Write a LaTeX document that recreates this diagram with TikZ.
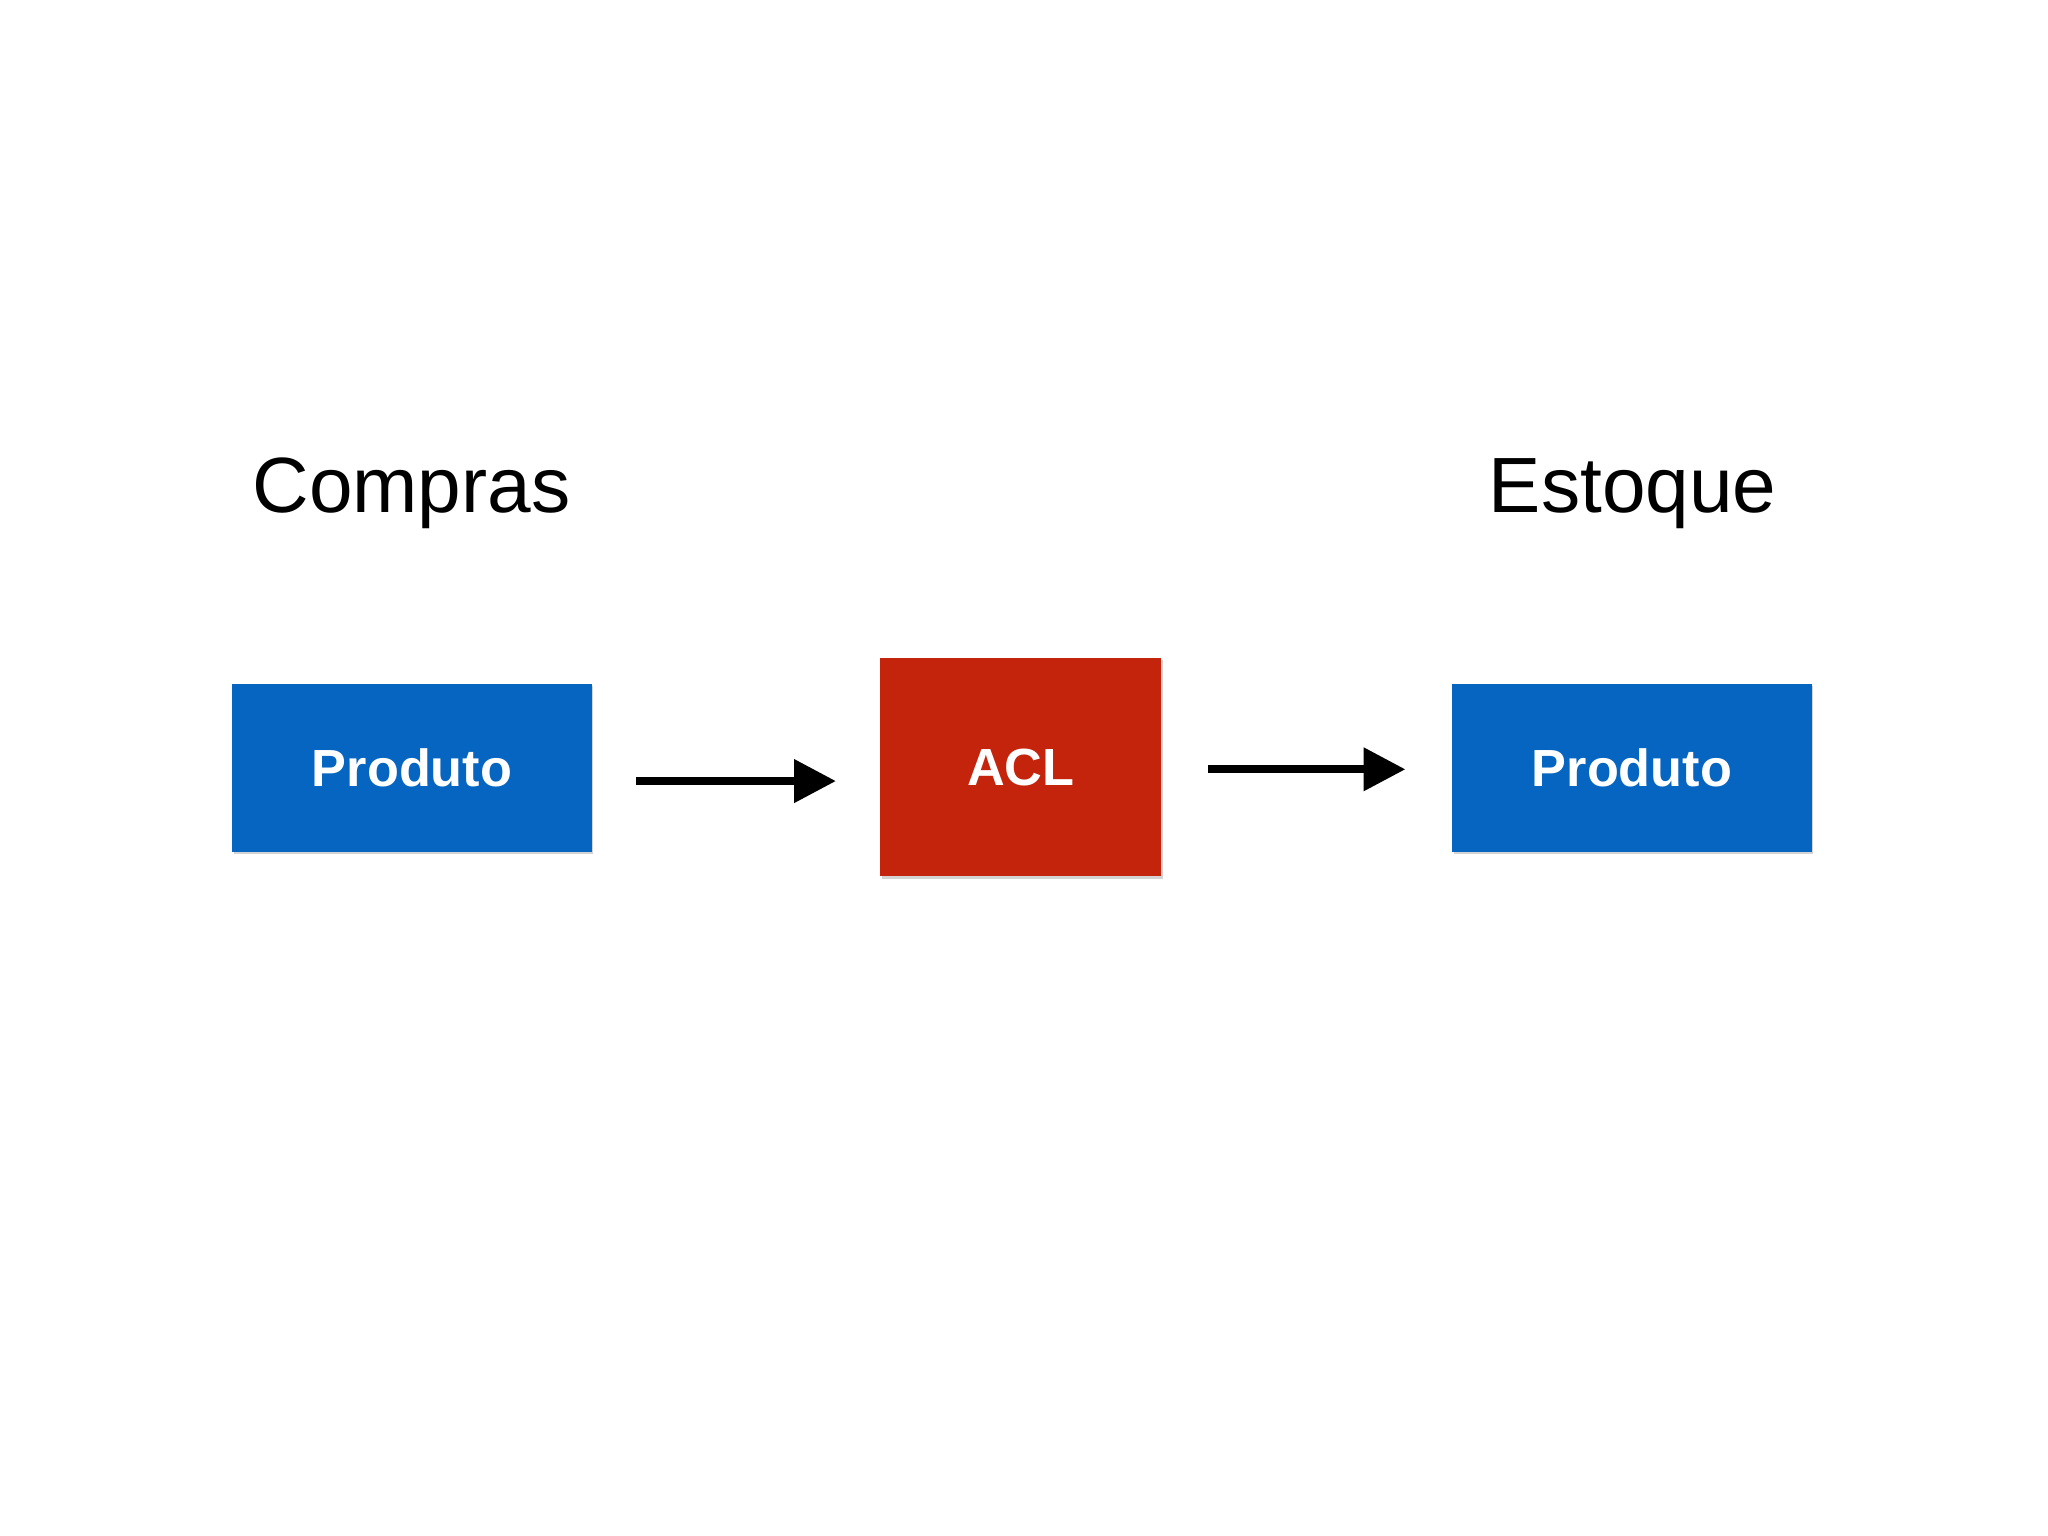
\documentclass[tikz,border=0pt]{standalone}
\usepackage{fontspec}
\setmainfont{Liberation Sans}
\usetikzlibrary{arrows.meta,shadows}
\definecolor{boxblue}{HTML}{0565C0}
\definecolor{boxred}{HTML}{C5240C}
\begin{document}
\begin{tikzpicture}
[x=0.5pt, y=-0.5pt,
 every node/.style={inner sep=0pt},
 entity/.style={rectangle, draw=none, text=white, font=\fontsize{20}{24}\selectfont\bfseries, drop shadow={shadow xshift=0.6pt, shadow yshift=-0.8pt, opacity=0.35}},
 heading/.style={font=\fontsize{30}{36}\selectfont},
 flow/.style={line width=3pt, -{Triangle[length=16pt, width=16pt]}}]
\useasboundingbox (0,0) rectangle (1568,1176);
\node (titlebuy) [heading] at (315, 378) {Compras};
\node (titlestock) [heading] at (1250, 378) {Estoque};
\node (buy) [entity, fill=boxblue, minimum width=137.5pt, minimum height=64pt] at (315.5, 588) {Produto};
\node (acl) [entity, fill=boxred, minimum width=107.5pt, minimum height=83.5pt] at (781.5, 587.5) {ACL};
\node (stock) [entity, fill=boxblue, minimum width=137.5pt, minimum height=64pt] at (1249.5, 588) {Produto};
\coordinate (a1s) at (487, 598);
\coordinate (a1e) at (640, 598);
\coordinate (a2s) at (925, 589);
\coordinate (a2e) at (1076, 589);
\draw [flow] (a1s) -- (a1e);
\draw [flow] (a2s) -- (a2e);
\end{tikzpicture}
\end{document}
